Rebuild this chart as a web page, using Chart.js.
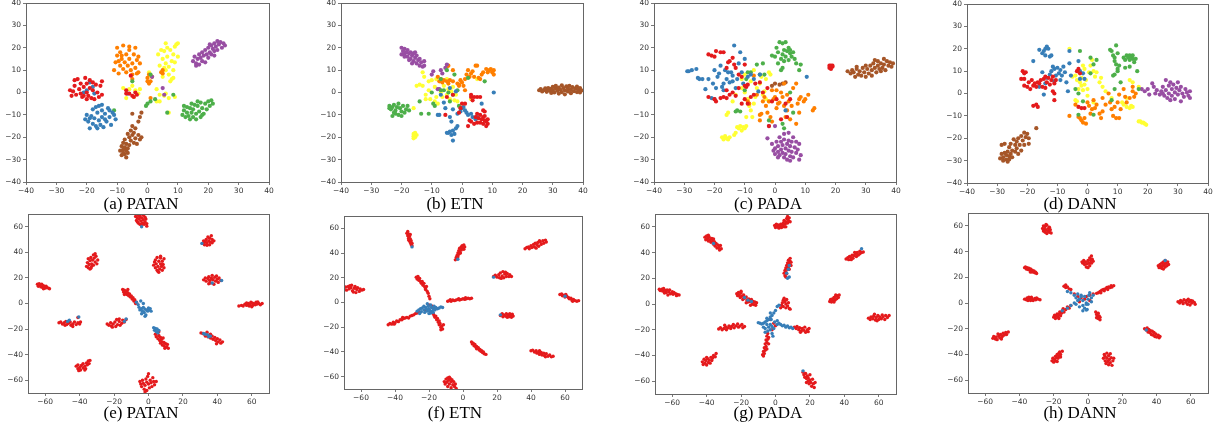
<!DOCTYPE html>
<html>
<head>
<meta charset="utf-8">
<script src="https://cdn.jsdelivr.net/npm/chart.js@4"></script>
<style>
  body { margin: 0; width: 1214px; height: 427px; background: #fff; position: relative; overflow: hidden; }
  canvas { position: absolute; }
  .cap { position: absolute; width: 300px; text-align: center; font-family: "Liberation Serif", "Times New Roman", serif; font-size: 17px; line-height: 17px; color: #000; white-space: nowrap; }
</style>
</head>
<body>
<script>
// tick values
const topTicks = [-40, -30, -20, -10, 0, 10, 20, 30, 40];
const bottomTicks = [-60, -40, -20, 0, 20, 40, 60];
const captions = ['(a) PATAN', '(b) ETN', '(c) PADA', '(d) DANN', '(e) PATAN', '(f) ETN', '(g) PADA', '(h) DANN'];

// (a) PATAN, 7 classes
const aRed = [[-25,-1.5],[-25.5,1],[-24,3],[-24,5.5],[-23,6],[-22.5,1.5],[-22,4],[-22,-0.5],[-21.5,-2],[-21,2.5],[-20.5,6.5],[-20,4],[-20,0],[-19.5,-1.5],[-19,5.5],[-19,2],[-18.5,-2.5],[-18,1],[-17.5,-3],[-17,3.5],[-16.5,0],[-16,-2],[-15.5,3],[-15,5],[-15,-1],[-23.5,-1],[-21,-1.5],[-18,4.5],[-24.5,0.5],[-20,-3],
  [-7,1],[-6,-0.5],[-5,-1.5],[-4,0],[-4.5,-2],[-5.5,7.5],[-7,-0.5],[-3.5,-1]];
const aBlue = [[-20,-10],[-19.5,-13],[-19,-16],[-18.5,-10.5],[-18,-14],[-18,-7.5],[-17.5,-11.5],[-17,-15],[-16.5,-9],[-16,-6],[-16,-12.5],[-15.5,-14.5],[-15,-8],[-15,-11],[-14.5,-15.5],[-14,-9.5],[-13.5,-13],[-13,-7],[-12.5,-11],[-12,-14.5],[-11.5,-9],[-11,-10],[-10.5,-12],[-20.5,-12],[-17,-6.5],[-14,-12],[-19,-11.5],[-12.5,-8],[-16.5,-16],[-15,-5.5],
  [-20,1],[-19,4.5],[-18,2.5],[-17.5,-0.5],[-21,0],[-6.5,-0.5]];
const aGreen = [[11.5,-10],[12,-8],[12.5,-11],[13,-9],[13,-6.5],[13.5,-10.5],[14,-7],[14.5,-9],[14.5,-5],[15,-11],[15,-7.5],[15.5,-5.5],[16,-9.5],[16,-12],[16.5,-6],[17,-8.5],[17.5,-11],[17.5,-4.5],[18,-7],[18.5,-9.5],[19,-5],[19.5,-7.5],[20,-4],[20.5,-6],[21,-3.5],[21.5,-5],[14,-12],[12,-6],[18,-10],[16.5,-4],
  [-5,5],[0,-5],[-0.5,-6],[1,-4],[2.5,-3],[8.5,-1],[-11,-8],[6.5,-9],[1,8]];
const aPurple = [[15,14],[15.5,16],[16,13],[16.5,15],[17,17],[17,12.5],[17.5,15.5],[18,18],[18,14],[18.5,16.5],[19,19],[19,13.5],[19.5,17],[20,20],[20,15.5],[20.5,18],[21,21],[21,17],[21.5,19.5],[22,22],[22,18.5],[22.5,20.5],[23,23],[23,19],[23.5,21.5],[24,22.5],[24.5,20],[25,22],[25.5,21],[16,12],[20.5,21.5],[22,16.5],
  [1.5,7],[5,2],[5.5,-1]];
const aOrange = [[-11,10],[-10.5,13.5],[-10,20],[-10,16.5],[-9.5,8.5],[-9,12],[-9,18],[-8.5,15],[-8,21],[-8,10.5],[-7.5,13.5],[-7,17],[-7,9],[-6.5,12],[-6,19],[-6,15],[-5.5,10],[-5,13],[-5,8],[-4.5,17],[-4,20],[-4,11],[-3.5,14.5],[-3,9],[-3,16],[-2.5,13],[-8.5,16.5],[-6,20.5],[-9.5,14],[-3.5,8.5],
  [0,5],[0,6.5],[0.5,8],[1,5],[1.5,7],[0.5,4],[1,-2.5],[-5,6],[4.5,9],[5,10],[5,8.5]];
const aYellow = [[3.5,17],[4,12],[4.5,19],[5,15],[5,7],[5.5,18.5],[6,13],[6,10],[6.5,20],[6.5,16],[7,11.5],[7,8],[7.5,19],[8,14],[8,6],[8.5,17],[8.5,10],[9,20.5],[9,13.5],[9.5,21.5],[10,22],[10,16],[7.5,5],[6,22],[5.5,11],[8.5,6.5],
  [-8,2],[-7,-2.5],[-6,1.5],[-5,3],[-4,1],[-3,-0.5],[-2.5,1.5],[-4.5,-2],[0.5,9],[1,7.5],[3,1.5],[4,-1],[5.5,-1.5],[6,-0.5],[7,-2.5],[9,-2],[7,-9],[4,-4],[3,-4]];
const aBrown = [[-9,-26],[-8.5,-24],[-8.5,-28],[-8,-25.5],[-8,-22.5],[-7.5,-27.5],[-7.5,-24.5],[-7,-26],[-7,-29],[-7,-23],[-6.5,-25],[-6.5,-27],[-6,-23.5],[-6,-20],[-5.5,-17],[-5.5,-21.5],[-5,-19],[-5,-15],[-4.5,-22.5],[-4.5,-18],[-4,-20.5],[-4,-16],[-3.5,-23],[-3,-19],[-3,-13],[-2.5,-21],[-2,-20],[-2.5,-11],[-2,-9],[-5,-9.5],[-6.5,-18.5],[-8,-27],[-7.5,-21]];

// (b) ETN
const bRed = [[8,-13],[8.5,-14],[7.5,-12.5],[7,-14],[8,-15],[7,-11],[6.5,-12],[6,-10],[5.5,-11.5],[5,-9.5],[4.5,-11],[7.5,-10.5],[8.5,-12],[6,-13.5],[5,-13.5],[4,-14],[3,-13],[2,-15],[7,-8],[7.5,-8.5],[6,-2],[5,-2],[4,-2],[3,-2],[3.5,-3.5],[3,-1],[1,-5],[0,-5],[-1,-9],[-5.5,-10],[-5,-2],[-3,-1],[-0.5,-7],[2.5,-12.5]];
const bBlue = [[-4.5,-18],[-4,-17.5],[-3.5,-19],[-3,-17],[-3,-21.5],[-2.5,-18.5],[-2,-16],[-1.5,-15],[-5,-18],[-3.5,-13],[-4,-11],[-3,-7.5],[-1.5,-9.5],[-0.5,-8.5],[0,-7],[0.5,-6.5],[1,-8],[1.5,-9],[2,-10],[3,-9.5],[3.5,-11],[4.5,-12],[5,-11],[10.5,0],[6.5,-5],[-7.5,-10],[-8,-10],[-6,-4.5],[-4,2],[-2,0.5],[-7,-1],[-5.5,-7]];
const bGreen = [[-24,-6],[-23.5,-7.5],[-23,-6.5],[-23,-10.5],[-22.5,-5.5],[-22,-8],[-22,-9.5],[-21.5,-6.5],[-21,-5],[-21,-10],[-20.5,-7],[-20,-8.5],[-19.5,-6],[-19,-9],[-18.5,-7.5],[-18,-6],[-17.5,-8],[-20,-10.5],[-22.5,-9],[-24,-7],
  [-14,-4],[-13.5,-9.5],[-11,-9.5],[-9,-6],[-9.5,-5],[-10,0],[-7,1],[-6,1],[-5,10],[-2.5,8],[-4,-4],[-1,-6],[7.5,5],[-3,-1],[-4.5,0],[-7,6],[2,6.5],[-1.5,1]];
const bPurple = [[-20,20],[-19.5,18.5],[-19,19.5],[-19,17],[-18.5,18],[-18,16],[-18,19],[-17.5,17.5],[-17,15],[-17,18],[-16.5,16.5],[-16,14],[-16,17.5],[-15.5,15.5],[-15,13],[-15,16.5],[-14.5,14.5],[-14,12],[-14,15],[-13.5,13.5],[-13,11.5],[-12.5,14],[-12.5,12],[-17.5,14.5],[-20,17],[-19,16],[-15.5,18],[-16.5,13],[-10,8],[-9.5,9.5],[-7,10],[-6.5,8.5],[-5.5,11],[-8,1.5],[-7.5,1.5],[-5,12.5]];
const bOrange = [[-8,7],[-7.5,5],[-7,6],[-6.5,4.5],[-6,5.5],[-5,5],[-4.5,4],[-4,5.5],[-3,5],[-5,11.5],[-4.5,12],[-3,10],[-1.5,4],[-1,3],[-0.5,5.5],[0,4.5],[0.5,3],[1,6],[1.5,8],[2,10],[2.5,7],[3,8.5],[3.5,9.5],[4,7],[4.5,12],[5,12],[5.5,6.5],[6,6],[6.5,8],[7,9],[8,10.5],[8.5,9],[9,10],[9.5,10.5],[10,9],[10.5,8],[10.5,10],[-1,3.5],[1,1]];
const bYellow = [[-16,-18.5],[-15.5,-19],[-15.5,-20],[-16,-19.5],[-15,-19],[-16,-20.5],[-15.5,-18],
  [-15,3],[-14,3.5],[-13,3],[-12.5,7],[-12,-1],[-11,1],[-10,5.5],[-10.5,-3],[-9,2.5],[-8.5,-2],[-8,-5],[-7,0],[-6.5,-2],[-6,3],[-5,6],[-5,-1],[-4.5,1.5],[-4,-3],[-3.5,0.5],[-3,2.5],[-2.5,-3.5],[-2,-1],[-1.5,-4],[-11,5],[-13,9],[-8.5,6],[-16,-7],[-12,-3],[-9,-4],[3,-3],[5,6]];
const bBrown = [[25.5,1],[26,1.5],[26.5,0.5],[27,1],[27.5,1.8],[28,0.3],[28,1.2],[28.5,2],[29,0.8],[29.5,1.6],[29.5,-0.2],[30,2.5],[30,1],[30.5,0],[31,1.8],[31,3],[31.5,0.8],[32,2.2],[32,-0.5],[32.5,1.2],[33,3.2],[33,0.2],[33.5,2],[34,1],[34,-0.8],[34.5,2.8],[35,0.5],[35,1.8],[35.5,3],[36,1.2],[36,-0.3],[36.5,2.4],[37,0.6],[37.5,1.8],[38,0.2],[38,2.6],[38.5,1.2],[39,2],[39,0],[39.5,1]];

// (c) PADA
const cRed = [[18,11],[18.5,12],[19,11.5],[18.5,10.5],[19,12],[18,12],
  [-22,17],[-21,16.5],[-20,16],[-19.5,18.5],[-18,18],[-17,18],[-16,11],[-15.5,13.5],[-15,14],[-14,15.5],[-13.5,12.5],[-13,11],[-16,1],[-15,-1],[-14,0],[-12,2],[-13,-1.5],[-10,3],[-9.5,2.5],[-9,3.5],[-10,12.5],[-11,7],[-12,8],[-20,-3],[-19.5,-4],[-18,-2.5],[-17,-2],[-16,-2.5],[-11,-5],[-10,-3],[-9,-5],[-8,-2],[-7,-1],[-6.5,4],[-5,4.5],[-4,0],[-2.5,2],[-1,-4],[0.5,-3],[3.5,-5],[5,-3],[4,-11],[2,-12],[-2,-15],[-22,-2]];
const cBlue = [[-29,9.5],[-28.5,9.5],[-27.5,10],[-26,10.5],[-25.5,6.5],[-25,6],[-24,6],[-23,1.5],[-22,6],[-20.5,4],[-20,10],[-19.5,2],[-19,7],[-18.5,8.5],[-18,12],[-17.5,2.5],[-17,4],[-16.5,10],[-16,6],[-15.5,9],[-15,4.5],[-14.5,9],[-14,7.5],[-13.5,21],[-13,2],[-12.5,6],[-12,13],[-11.5,18],[-11,9],[-10.5,4],[-10,15],[-9,7],[-8,8],[-7,6],[-5.5,0.5],[-17,1],[-14,5],[-21,-2.5],[-20,-3],[10.5,7],[3.5,-8],[-5,8]];
const cGreen = [[0,16],[0.5,20],[1,18],[1.5,22.5],[2,15],[2.5,17],[2.5,22],[3,19],[3.5,22.5],[3.5,16],[4,18.5],[4.5,14.5],[4.5,20],[5,17.5],[5,19],[5.5,16],[6,18],[6.5,15],[7,13],[8,10],[8.5,12.5],[2,10],[2.5,11],[1,13],[-1,16.5],[3,14],
  [-6,12.5],[-4,13],[-5,8],[-8,9],[-9,9],[-3.5,8],[-10,1],[-12.5,-8],[-13,-8.5],[-11.5,-8.5],[5,0],[2.5,-14],[-2,-12.5],[6,-9],[3,-16],[-9.5,6]];
const cPurple = [[-2.5,-20.5],[-2,-15],[0,-15],[-0.5,-26],[0,-25],[0,-27.5],[0.5,-22],[1,-26.5],[1,-24],[1.5,-28],[1.5,-20],[2,-22],[2,-25.5],[2.5,-27],[2.5,-23.5],[3,-29],[3,-21],[3.5,-25],[3.5,-27.5],[4,-23],[4,-30],[4.5,-26],[4.5,-21.5],[5,-28.5],[5,-24],[5.5,-22],[5.5,-26.5],[6,-20],[6,-29],[6.5,-24.5],[7,-22],[7,-27],[7.5,-25.5],[8,-23],[8,-30],[8.5,-28],[5,-30.5],[1,-29],[3,-18.5],[-1,-23],[4.5,-18]];
const cOrange = [[-9,-4],[-8.5,-5],[-7,7.5],[-6,-1],[-5,-10],[-5,-12.5],[-4.5,-9.5],[-4,-4],[-3.5,-2],[-3,-6],[-2.5,-9],[-2,-4],[-1.5,-11],[-1,-13],[-0.5,-3],[0,-2],[0.5,-7],[1,-5],[1.5,-4.5],[2,0],[2.5,-2],[3,-6],[3.5,-11],[4,-8],[4.5,-4],[5,-12],[5.5,-6],[6,2],[7,4],[7.5,-5],[8,-3],[8.5,-2],[9.5,-4],[11,-1],[12.5,-8],[13,-7],[8,-9],[7,-14],[3,4],[-1,1],[0.5,1],[4,-1],[10,-3]];
const cYellow = [[-17.5,-20],[-17,-21],[-16.5,-19.5],[-16,-20.5],[-15.5,-21],[-15,-20],[-13.5,-19],[-13,-18],[-12,-16],[-11.5,-15],[-11,-17],[-10.5,-15.5],[-10,-16],[-9.5,-15],[-12.5,-15.5],[-16,-10],[-15.5,-9],[-14,-4],[-13,-1],[-11,2],[-10,0],[-9,-3],[-8.5,-6],[-8,-8],[-7,-5],[-6.5,-2],[-6,2],[-5,4],[-4.5,7],[-3,6],[-2,9],[-4,-1],[-3,-3],[-2,-4],[-9.5,-11],[-7.5,-11],[-11,6],[-8,5],[-10,8],[-7,10],[-1.5,8],[-3.5,0.5]];
const cBrown = [[24,9.5],[25,8.5],[25.5,10],[26,9],[26.5,7],[27,10.5],[27.5,8],[28,9.5],[28.5,7.5],[29,11],[29.5,9],[30,7],[30.5,10.5],[31,8.5],[31.5,12],[32,10],[32,7.5],[32.5,13],[33,11],[33.5,9],[34,14],[34,12],[34.5,10.5],[35,13],[35.5,11],[36,15],[36,12.5],[36.5,10],[37,14],[37.5,12],[38,13.5],[38.5,11.5],[39,13],[33,14.5],[30,12],[27,11.5],[35,9.5],
  [-1,3],[0,4],[1.5,3.5],[2.5,4],[3.5,4.5]];

// (d) DANN
const dRed = [[-21.5,10],[-21,9],[-20.5,9.5],[-21,6.5],[-22,6.5],[-21,3.5],[-20,3],[-19.5,5],[-19,2],[-18.5,6],[-18,3.5],[-17.5,4.5],[-17,3],[-16.5,5],[-16,4.5],[-15.5,6],[-15,3],[-14.5,6.5],[-14,7.5],[-13.5,5],[-13,7],[-12.5,4],[-12,6],[-11.5,7.5],[-11,4.5],[-10.5,6],[-11,0],[-11,-3],[-11.5,1],[-14,2.5],[-17,-5],[-18,-5.5],[-16.5,-6],[-3,11],[-2.5,9],[-3.5,10],[-2,-6.5],[-1,-6.5],[-3,-6]];
const dBlue = [[-18,14.5],[-16,19.5],[-15,18],[-14.5,19],[-14,17],[-14,20],[-13.5,21],[-13,20],[-12.5,16.5],[-12,17],[-11.5,12],[-15,9.5],[-14,4.5],[-13.5,7],[-12,10],[-11,11],[-10.5,8],[-10,11.5],[-9.5,9],[-9,10.5],[-9,6],[-8.5,8],[-8,12],[-7.5,9.5],[-7,5],[-6.5,1],[-6,13.5],[-6,19],[-5.5,8],[-3,14.5],[-2.5,10],[-2.5,6.5],[-1,6.5],[-1.5,9],[-12.5,8.5],[-14.5,-0.5],[-11,5.5],[-16,3]];
const dGreen = [[12,16],[12.5,15],[13,17],[13.5,16],[14,17],[14,15],[14.5,16.5],[15,15.5],[15,17],[15.5,14],[16,15.5],[16.5,10],[8,19],[8.5,17],[9,16],[9,14.5],[9.5,13],[9.5,21.5],[10,18],[10,11],[10.5,12.5],[10,10],[9,8.5],[8.5,8],[11,5],[7.5,19.5],[12.5,11.5],[14,12],
  [-2.5,19],[1,16],[3,15],[2,13],[-3,0],[-1.5,-3.5],[2,-9.5],[-3,-9.5],[8,-3],[9,2],[17,2],[-4,2],[1,9]];
const dPurple = [[18,2],[19,1],[20,2],[20.5,-0.5],[21.5,4.5],[22,3],[22.5,0],[23,1.5],[24,-0.5],[24.5,1],[25,3],[25.5,-1],[26,1.5],[26,6],[26.5,-2],[27,3.5],[27,0],[27.5,-3],[28,2],[28,-1],[28.5,4],[29,0.5],[29,-2.5],[29.5,2.5],[30,-0.5],[30,5],[30.5,1.5],[31,-3.5],[31,3],[31.5,0],[32,-1.5],[32.5,2],[33,0.5],[33.5,-1],[34,-2],[34,1],[27.5,5],[25,0]];
const dOrange = [[-6,-10],[-4,-5],[-3,-10.5],[-2.5,-11],[-2,-12],[-1.5,-13],[-1,-11],[-0.5,-13.5],[0,-4],[0.5,-5.5],[1,-9],[1.5,-7],[2,-3],[2.5,-6.5],[3,-5],[4,-9],[4.5,-11],[5,-8],[5,-2],[6,-5],[7,0],[7.5,-4],[8,-7],[8.5,-10],[9.5,-11],[10.5,-11],[10,-4],[10.5,-0.5],[11,-7],[12,2],[12.5,-1.5],[13,-4],[14,-2],[15,1],[15.5,-1.5],[16,0],[15,3],[9,-6]];
const dYellow = [[17.5,-12.5],[18,-13],[18.5,-13],[19,-13.5],[19.5,-14],[17,-12.5],
  [-6,20],[-4,-3],[-3.5,-3.5],[-5,7.5],[-4,8],[-3.5,6],[-2.5,5],[-2,3.5],[-1.5,1.5],[-1,4],[0,-1],[0,2],[0.5,9.5],[1,12.5],[1.5,15],[2,10],[2.5,7.5],[3,9.5],[4.5,7],[4,5],[5,3],[6,1],[8,-2],[-2,7],[-1,11],[-0.5,6],[-3,2],[12,-5],[13,-6],[14,-6.5],[14.5,-5.5],[15,-6],[14,6],[15,5],[17,3],[13,-2],[11.5,-4],[-1.5,12.5],[2,-4]];
const dBrown = [[-29,-29],[-28.5,-27],[-28,-30],[-28,-28.5],[-27.5,-26.5],[-27.5,-22.5],[-27,-29.5],[-27,-27.5],[-26.5,-30.5],[-26.5,-26],[-26,-28],[-26,-29.5],[-25.5,-27],[-25.5,-22.5],[-25,-25.5],[-25,-28.5],[-24.5,-20.5],[-24,-23],[-24,-26],[-23.5,-21.5],[-23.5,-24.5],[-23,-20],[-23,-27],[-22.5,-23],[-22,-19],[-22,-25.5],[-21.5,-21],[-21,-17.5],[-21,-23],[-20.5,-19.5],[-20,-18],[-19.5,-20],[-19.5,-22.5],[-17,-15.5],[-28.5,-23],[-26,-24]];

// (e) PATAN, source vs target
const eRed = [[-7.5,68],[-7,65],[-6.5,67],[-6,63],[-6,69],[-5.5,66],[-5,62],[-5,68],[-4.5,64.5],[-4,61],[-4,67],[-3.5,63],[-3,65.5],[-3,69],[-2.5,62],[-2,64],[-1.5,66],[-1,62.5],[-1,60.5],[-6.5,64],[-2,67.5],[-4.5,70],
  [31.5,47],[32,49],[32.5,46],[33,48],[33.5,50],[34,45.5],[34,47.5],[34.5,52],[35,49],[35.5,51],[35.5,46],[36,48],[36.5,53],[37,50],[37,47.5],[38,49],
  [3,30],[3.5,32.5],[4,28],[4,34],[4.5,31],[5,26],[5,36],[5.5,29],[6,33],[6,24.5],[6.5,27],[7,31],[7,35.5],[7.5,29],[8,26],[8,33],[8.5,30.5],[9,28],[9,35],[5.5,25],[7,37],
  [-36,29],[-35.5,32],[-35,35],[-35,28],[-34.5,30.5],[-34,33.5],[-34,27],[-33.5,36],[-33,31],[-33,29],[-32.5,34],[-32,38],[-32,30],[-31.5,35.5],[-31,32.5],[-31,39],[-30.5,37],[-30,31],[-29.5,34],[-33.5,27.5],
  [32,18.5],[33,20],[33.5,17.5],[34.5,19.5],[35,21],[35.5,18],[36,16],[36.5,20],[37,22],[37.5,18.5],[38,15],[38.5,20.5],[39,17.5],[39.5,21.5],[40,19],[40.5,16.5],[41,20],[42,18],[37,19],[35,15.5],
  [-64.5,15],[-64,13.5],[-63,14.5],[-62.5,13],[-62,15],[-61.5,12.5],[-61,14],[-60.5,13],[-60,12],[-59.5,13.5],[-59,12.5],[-58,12],[-57.5,11.5],[-63.5,15.5],[-61,11.5],
  [52.5,-2],[54,-1.5],[55,-2],[56,-0.5],[57,-1.5],[58,0],[58.5,-2],[59,-1],[60,0.5],[60.5,-1.5],[61,0],[62,-1],[62.5,1],[63,-0.5],[64,0],[65,-1],[66,0],[57,0.5],[60,-2.5],[63.5,1.2],[59.5,1],
  [-15,11],[-14.5,9],[-14,10.5],[-13.5,8],[-13,9.5],[-12.5,7],[-12,8.5],[-11.5,6],[-11,7.5],[-10.5,5],[-10,6],[-9.5,3.5],[-9,4.5],[-8.5,2],[-8,3],[-7.5,0],[-7,1],[-12,11],[-14,7],
  [-52,-15],[-51,-14.5],[-50,-16],[-49,-15],[-48,-14],[-47.5,-16.5],[-46.5,-15.5],[-45.5,-14.5],[-45,-17],[-44,-16],[-43,-14.5],[-42,-16.5],[-41,-15],[-40,-16],[-39.5,-14.5],[-44,-18],[-48.5,-17],[-41,-11],
  [-24,-16],[-23,-17],[-22,-15],[-21.5,-17.5],[-20.5,-16],[-19.5,-14.5],[-19,-18],[-18,-16.5],[-17,-14],[-16.5,-17],[-15.5,-15.5],[-15,-13],[-14,-14.5],[-13,-12.5],[-18.5,-12.5],[-21,-18.5],[-17,-12],
  [4,-24],[4.5,-26],[5,-23],[5.5,-27.5],[6,-25],[6.5,-29],[7,-26.5],[7,-31],[7.5,-28],[8,-32.5],[8,-30],[8.5,-27],[9,-33],[9,-30.5],[9.5,-35],[10,-31.5],[10.5,-34],[11,-32],[6,-22],[11.5,-35],
  [30.5,-23],[31.5,-23.5],[32.5,-24],[33,-25.5],[34,-22.5],[34.5,-26],[35.5,-24.5],[36,-27],[37,-25.5],[37.5,-28],[38.5,-26.5],[39,-29],[40,-27.5],[40.5,-30],[41.5,-28.5],[42,-31],[43,-30],[36,-24],[39.5,-31.5],
  [-42,-49],[-41,-51],[-41,-48],[-40,-50],[-39.5,-52],[-39,-48.5],[-38,-50.5],[-38,-47],[-37,-49],[-36.5,-51],[-36,-46.5],[-35.5,-48],[-35,-45],[-34.5,-47],[-34,-44.5],[-40.5,-52.5],[-37,-52],
  [-5,-61],[-4.5,-63],[-4,-65],[-3.5,-60],[-3,-62.5],[-2.5,-67],[-2,-64],[-1.5,-59],[-1,-61.5],[-1,-68],[0,-63],[0,-55],[0.5,-66],[1,-60],[1.5,-62],[2,-65],[2.5,-58],[3,-61],[3.5,-63.5],[4.5,-61],[-0.5,-57],[-2,-69]];
const eBlue = [[-7,1],[-6,-1],[-5.5,-3],[-5,-5],[-4,-4],[-3.5,-6],[-3,-3],[-2.5,-7],[-2,-4.5],[-1.5,-9],[-1,-5],[-0.5,-6],[0,-3.5],[0.5,-5],[1,-4],[1.5,-6],[-4,-8],[-3,0],[-4.5,2],[-2,-10],
  [3,-19],[3.5,-21],[4,-19.5],[4.5,-22],[5,-20],[5.5,-23],[6,-21],
  [-4,60],[31,47],[42.5,18],[37,16],[-13,-12],[-14,-14],[-46,-13],[-47,-14],[-40.5,-10.5],[32,-23.5],[33,-24],[34.5,-24.5],[35,-26],[36,-25.5]];

// (f) ETN
const fRed = [[-33,56],[-32.5,57.5],[-32.5,54],[-32,55.5],[-32,52],[-31.5,53.5],[-31.5,50],[-31,51.5],[-31,48.5],[-30.5,50],[-30.5,47],[-30,48],[-31,55],[-32,50.5],[-30,46],
  [-4.5,34.5],[-4,36.5],[-3.5,38],[-3,37],[-3,40],[-2.5,39],[-2.5,42],[-2,41],[-1.5,43.5],[-1.5,40],[-1,45],[-1,42.5],[-0.5,46],[0,44],[0.5,46.5],[0.5,43],[1,45],[-2,44],[-3.5,35.5],
  [36.5,43.5],[37.5,44.5],[38.5,45],[39,43.5],[40,46],[40.5,44.5],[41.5,47],[42,45],[42.5,48],[43.5,46.5],[44,48.5],[44.5,45.5],[45.5,49],[46,47],[47,50],[47.5,48],[48.5,50.5],[49,49],[43,44],[45,50],
  [-70,11],[-69,12.5],[-68.5,10],[-67.5,13],[-67,11],[-66,12],[-65.5,14],[-65,9.5],[-64,11.5],[-63.5,13],[-62.5,10.5],[-62,12],[-61,9],[-60.5,11],[-59.5,10],[-58.5,10.5],[-64.5,8.5],[-66.5,13.5],[-63,8],
  [18,21],[19,22],[20,20.5],[21,22.5],[21.5,20],[22,24],[23,21.5],[23.5,25],[24,20],[24.5,23],[25.5,21],[26,23.5],[27,21],[27.5,22.5],[28.5,21],[22.5,19.5],[25,24.5],
  [-27.5,20.5],[-27,19],[-26.5,21],[-26,18],[-25.5,19.5],[-25,17],[-24.5,15.5],[-24,17],[-23.5,14],[-23,15.5],[-22.5,12.5],[-22,11],[-21.5,13],[-21,9],[-20.5,7.5],[-20,5],[-19.5,3],[-22,10.5],
  [-44,-18],[-43,-17],[-42,-17.5],[-41,-16],[-40,-16.5],[-39,-15],[-38,-15.5],[-37,-14],[-36,-14],[-35,-13],[-34,-12.5],[-33,-12],[-32,-12.5],[-31,-11],[-30,-10.5],[-29,-10],[-28,-9],[-27,-8.5],[-26,-8],[-35.5,-12],[-40.5,-17.5],
  [-17.5,-9],[-17,-10.5],[-16.5,-12],[-16,-11],[-15.5,-14],[-15,-13],[-14.5,-16],[-14,-18],[-13.5,-17],[-13,-20],[-12.5,-19],[-12,-21.5],[-13,-22],[-11.5,-18],[-14,-15],
  [-20,-2],[-18,-3],[-16,-4.5],[-22,-6],[-19,-8],
  [-9,1],[-8,1.5],[-7,1],[-6,2],[-5,1.5],[-4,2],[-3,2.5],[-2,2],[-1,2.5],[0,3],[1,2.5],[2,3],[3,3.5],[4,3],[5,3.5],[-7.5,2.2],[-2.5,3],[1.5,3.8],
  [57,6.5],[58,7],[58.5,5.5],[59.5,6],[60,4.5],[61,5],[62,4],[62.5,3],[63.5,3.5],[64,2],[65,2.5],[66,1.5],[67,1],[68,1.5],[60.5,6.5],[64.5,1],
  [22,-10.5],[23,-9],[23.5,-11.5],[24,-10],[25,-11],[25.5,-9],[26,-12],[26.5,-10],[27,-11.5],[27.5,-9],[28,-10.5],[28.5,-12],[29,-9.5],[29.5,-11],
  [5,-32],[5.5,-33.5],[6,-33],[6.5,-35],[7,-34],[7.5,-36],[8,-35.5],[8.5,-37],[9,-36.5],[9.5,-38.5],[10,-38],[10.5,-39.5],[11,-39],[11.5,-40.5],[12,-40],[12.5,-41.5],[13.5,-42],[8,-37.5],
  [40,-39],[41,-38.5],[42,-40],[43,-39],[43.5,-41],[44.5,-40],[45,-42],[46,-40.5],[46.5,-42.5],[47.5,-41],[48,-43],[49,-41.5],[50,-43.5],[51,-42.5],[52,-44],[53,-43.5],[45,-39],[48.5,-44],
  [-11,-64],[-10.5,-66],[-10,-62],[-9.5,-64.5],[-9,-61],[-9,-68],[-8.5,-63],[-8,-66],[-7.5,-61.5],[-7,-64],[-7,-69],[-6.5,-62.5],[-6,-66.5],[-5.5,-64],[-5,-68],[-4.5,-66],[-4,-69.5],[-8,-60.5]];
const fBlue = [[-27,-7],[-26,-6],[-25,-5],[-24.5,-7.5],[-24,-4.5],[-23,-6],[-22.5,-8],[-22,-4],[-21.5,-5.5],[-21,-7],[-20.5,-3],[-20,-5],[-19.5,-6.5],[-19,-2],[-18.5,-4],[-18,-7],[-17.5,-5],[-17,-3],[-16.5,-6],[-16,-4],[-15,-5],[-14,-4.5],[-13,-3.5],[-12,-4],[-20,-9],[-21,-1],[-19,-8.5],[-23,-3],[-17.5,-8],[-25.5,-9],
  [-30,45],[18,20.5],[22,-10],[60,5],[-3,35]];

// (g) PADA
const gRed = [[-0.5,61],[0,59.5],[0.5,62],[1,60],[1.5,61.5],[2,59],[2.5,60.5],[3,62],[3.5,59.5],[4,61],[4.5,63],[5,60],[5,65],[5.5,62],[6,64],[6.5,66.5],[7,63],[7,68],[7.5,65],[8,67],[8.5,64],[6,60],
  [-41,52],[-40.5,50],[-40,53],[-39.5,51],[-39,49],[-38.5,52],[-38,50],[-37.5,48],[-37,51],[-36.5,49],[-36,46.5],[-35.5,48.5],[-35,45],[-34.5,47],[-34,43.5],[-33.5,46],[-33,44],[-32.5,42],[-32,45.5],[-31.5,43],[-39,53.5],[-36,50.5],
  [41,35],[42,36],[42.5,34.5],[43,37],[44,36],[44.5,38],[45,35.5],[45.5,37.5],[46.5,39],[47,37],[47.5,40],[48,38],[49,41],[49,39],[50,40],[51,40.5],[46,40],[44,34.5],
  [5,24],[5.5,26],[5.5,22],[6,28],[6,25],[6.5,30],[6.5,23.5],[7,27],[7,32],[7.5,29],[7.5,34],[8,31],[8,27],[8.5,33],[8.5,35.5],[9,30],[9,32.5],[6,21],
  [-67.5,11.5],[-67,10.5],[-66,11.5],[-65.5,10],[-65,12],[-64,10.5],[-63.5,9],[-63,11],[-62,9.5],[-61.5,11],[-61,8],[-60,9.5],[-59.5,7.5],[-59,9],[-58,8],[-57.5,6.5],[-57,7.5],[-56,7],[-62.5,7],[-64.5,8.5],
  [-22.5,8],[-22,6.5],[-21.5,9],[-21,7],[-20.5,5],[-20,8.5],[-19.5,6],[-19,3.5],[-18.5,7],[-18,4.5],[-17,5.5],[-16.5,3],[-16,1.5],[-15.5,4],[-15,2],[-14,3.5],[-13.5,0],[-13,2],[-12.5,-0.5],[-12,1.5],[-11.5,-1],[-11,1],[-20,10],[-17,1],[-14.5,-1],
  [31.5,2],[32,3.5],[32.5,1.5],[33,4],[33.5,2.5],[34,5],[34.5,3],[35,6],[35.5,4],[36,6.5],[36.5,5],[37,7],[34,1.5],[35,7],
  [54,-11],[55,-12],[55.5,-10],[56.5,-11.5],[57,-9.5],[58,-12.5],[58.5,-10.5],[59.5,-9],[60,-12],[60.5,-10],[61.5,-11.5],[62,-8.5],[62.5,-10],[63.5,-12],[64,-9],[65,-10.5],[66,-9],[59,-13],[57.5,-8],
  [-33,-19.5],[-32,-18.5],[-31,-20],[-30,-19],[-29,-18],[-28.5,-20],[-27.5,-18.5],[-27,-17],[-26,-19],[-25.5,-17.5],[-24.5,-16],[-24,-18.5],[-23,-17],[-22,-15.5],[-21.5,-18],[-20.5,-17],[-19.5,-16],[-19,-18.5],[-18,-17.5],[-29.5,-16.5],
  [3,-3],[3.5,-1],[4,1],[4.5,3],[5,4.5],[5.5,2],[6,0],[6.5,3.5],[7,-1.5],[7.5,1],[8,-3.5],[6,-3],[4.5,-2],[8.5,-4],
  [-4.5,-23],[-5,-25],[-4.5,-27.5],[-5.5,-28],[-5,-30],[-6,-31],[-5.5,-33],[-6.5,-34],[-6,-36],[-7,-37],[-6.5,-38.5],[-7.5,-39.5],[-7,-40.5],[-5,-35],[-4,-26],[-4,-31],
  [-3,-12],[-1,-15],[-2,-20],[0,-17],
  [11,-18],[12,-19],[12.5,-17.5],[13.5,-20],[14,-18.5],[15,-21],[15.5,-19],[16.5,-20.5],[17,-18],[17.5,-22],[18.5,-20],[19,-21.5],[19.5,-19],[14.5,-22],
  [-42.5,-45],[-42,-47],[-41.5,-43],[-41,-46],[-40.5,-44],[-40,-47.5],[-39.5,-42.5],[-39,-45.5],[-38.5,-43.5],[-38,-46],[-37.5,-41.5],[-37,-44],[-36.5,-42],[-36,-40],[-35,-41],[-34.5,-38.5],[-40,-41.5],
  [16,-53],[16.5,-55],[17,-57],[17.5,-54],[18,-58],[18.5,-56],[19,-60],[19,-57.5],[19.5,-62],[20,-59],[20.5,-61],[21,-64],[21.5,-58.5],[22,-62],[22.5,-65],[23,-61],[18,-61],[20,-55]];
const gBlue = [[0,-5],[-1,-7],[-2,-9],[-3,-10],[-2.5,-12],[-4,-12],[-5,-13],[-6,-14],[-7,-15],[-8,-15.5],[-9,-15],[-10,-14.5],[-5,-16],[-4,-18],[-3,-16],[-2,-17.5],[-1,-19],[-3,-20],[-4.5,-21],[-6,-19],[-6,-22],[-2,-23],[-0.5,-14],[1,-13],[1,-16],[2,-15],[3,-16],[4,-17],[5,-16.5],[6,-18],[7,-17],[8,-18.5],[9,-18],[10,-19],[-5,-11],[-3,-7],[1,-2],[2,-1],[-7,-18],[-1.5,-25],
  [7,20],[8,21],[6.5,24],[7.5,27],[8,30],[50,43],[-16,3],[-14,2],[-18,5],[16,-52],[-36,47]];

// (h) DANN
const hRed = [[-26.5,58],[-26,60],[-26,56],[-25.5,57.5],[-25,59.5],[-25,55],[-24.5,57],[-24,60.5],[-24,54],[-23.5,56],[-23,58],[-22.5,55],[-22,57],[-21.5,54.5],[-24.5,61],[-22.5,59],
  [-3,31],[-2.5,33],[-2,30],[-1.5,32],[-1,28],[-0.5,30.5],[0,33],[0,27.5],[0.5,31],[1,35],[1,29],[1.5,33],[2,36.5],[2,31],[2.5,34],[3,32.5],[-3.5,32],
  [41,29],[41.5,27.5],[42,30],[42.5,28],[43,31],[43,27],[43.5,29],[44,32],[44.5,30],[45,28],[45,33],[45.5,31],[46,29],[46.5,32],[47,30],[44,26.5],
  [-37,27.5],[-36.5,28],[-36,26.5],[-35.5,27.5],[-35,26],[-34.5,27],[-34,25.5],[-33.5,26.5],[-33,24.5],[-32.5,25.5],[-32,24],[-31.5,25],[-31,23.5],[-30.5,24],[-30,23],[-33.5,24],
  [-37,3],[-36,2.5],[-35.5,4],[-35,2],[-34,3.5],[-33.5,2],[-33,4.5],[-32.5,3],[-32,2],[-31,3.5],[-30.5,2.5],[-30,4],[-29,3],[-28,2.5],[-34.5,4.5],
  [5,7.5],[6,8],[7,9],[7.5,8],[8,10],[9,10.5],[9.5,9.5],[10,11],[11,12],[11.5,10.5],[12,12.5],[13,12],[13.5,13.5],[14,12.5],[15,13.5],[3,7],[1,6],
  [-14,13],[-13,14],[-12,12.5],[-11,11],[-10,10.5],[-13,12],[-8,7],[-6,5],
  [-20,-11],[-19.5,-9.5],[-19,-12],[-18.5,-10],[-18,-8.5],[-17.5,-11],[-17,-9],[-16.5,-7],[-16,-10],[-15.5,-8],[-15,-6],[-14.5,-4.5],[-14,-7],[-13,-5],[-12,-3],[-11,-4],[-10,-2],[-17,-12],
  [4.5,-7],[5,-9],[5.5,-10.5],[6,-8],[6,-12],[6.5,-10],[7,-13],[5,-11.5],[7,-11],
  [-4,4],[-2,3],[-1,5],[1,2],[-5,1],
  [52.5,1],[53.5,0],[54,2],[55,1],[55.5,-0.5],[56,2.5],[57,0.5],[57.5,2],[58,-1],[58.5,3],[59,1],[60,2],[60.5,0],[61,1.5],[62,0.5],[62.5,-1],[59.5,-1.5],
  [-55.5,-27.5],[-55,-26],[-54,-28],[-53.5,-26.5],[-53,-28.5],[-52,-25.5],[-51.5,-27],[-51,-24.5],[-50,-26],[-49.5,-23.5],[-49,-25],[-48,-23],[-47.5,-24.5],[-46.5,-22.5],[-52.5,-24],[-50.5,-28],
  [33,-20],[34,-21],[34.5,-19.5],[35,-22.5],[35.5,-20.5],[36,-23],[36.5,-21.5],[37,-24.5],[37.5,-22],[38,-25],[38.5,-23],[39,-26],[39.5,-24],[40,-26.5],[41,-25],[41.5,-27],[42,-26],
  [-21,-45],[-20.5,-43],[-20,-46],[-19.5,-44],[-19,-41.5],[-19,-45],[-18.5,-42.5],[-18,-40],[-17.5,-43],[-17,-39],[-17,-41.5],[-16.5,-38],[-16,-40],[-15,-37.5],[-18,-45.5],[-16,-42],
  [9,-43],[9.5,-40],[10,-45],[10,-41.5],[10.5,-47],[11,-39],[11,-43],[11.5,-45.5],[12,-48],[12,-41],[12.5,-44],[13,-46.5],[13.5,-42.5],[14,-48.5],[14.5,-45],[15,-43],[13,-39.5]];
const hBlue = [[-12,9],[-10,8],[-8,6],[-7,4],[-6,7],[-5,3],[-4,6],[-3,2],[-2,5],[-1,0],[0,3],[0.5,6],[1,8],[2,4],[3,6],[-3,-2],[-2,-4],[-1,-1],[0,-1],[-8,0],[-10,-2],[-12,-4],[-5,-3],[-7,-1],[-3,-6],[-0.5,-5],[-1,-5.5],[-4,5],[-6,2],[2,1],
  [45,33],[34,-21],[-15,-6]];

const C = { red: '#e41a1c', blue: '#377eb8', green: '#4daf4a', purple: '#984ea3', orange: '#ff7f00', yellow: '#ffff33', brown: '#a65628' };

const Y_W = 30, X_H = 20, PAD_T = 6, PAD_R = 8;

const panels = [
  { box: [26, 3, 269, 182], lim: 40, ticks: topTicks, r: 2.1, series: [[aRed, C.red], [aBlue, C.blue], [aGreen, C.green], [aPurple, C.purple], [aOrange, C.orange], [aYellow, C.yellow], [aBrown, C.brown]] },
  { box: [341, 3, 583, 182], lim: 40, ticks: topTicks, r: 2.1, series: [[bRed, C.red], [bBlue, C.blue], [bGreen, C.green], [bPurple, C.purple], [bOrange, C.orange], [bYellow, C.yellow], [bBrown, C.brown]] },
  { box: [654, 3, 896, 182], lim: 40, ticks: topTicks, r: 2.1, series: [[cRed, C.red], [cBlue, C.blue], [cGreen, C.green], [cPurple, C.purple], [cOrange, C.orange], [cYellow, C.yellow], [cBrown, C.brown]] },
  { box: [967, 4, 1208, 183], lim: 40, ticks: topTicks, r: 2.1, series: [[dRed, C.red], [dBlue, C.blue], [dGreen, C.green], [dPurple, C.purple], [dOrange, C.orange], [dYellow, C.yellow], [dBrown, C.brown]] },
  { box: [28, 214, 269, 393], lim: 70, ticks: bottomTicks, r: 1.7, series: [[eBlue, C.blue], [eRed, C.red]] },
  { box: [344, 216, 582, 389], lim: 70, ticks: bottomTicks, r: 1.7, series: [[fBlue, C.blue], [fRed, C.red]] },
  { box: [655, 214, 896, 394], lim: 70, ticks: bottomTicks, r: 1.7, series: [[gBlue, C.blue], [gRed, C.red]] },
  { box: [968, 213, 1208, 393], lim: 70, ticks: bottomTicks, r: 1.7, series: [[hBlue, C.blue], [hRed, C.red]] }
];
const capCenters = [141, 455, 768, 1080];
const capTops = [195, 404];

const frame = {
  id: 'frame',
  afterDraw(chart) {
    const { ctx, chartArea: a } = chart;
    ctx.save();
    ctx.strokeStyle = '#666';
    ctx.lineWidth = 1;
    ctx.strokeRect(Math.round(a.left) + 0.5, Math.round(a.top) + 0.5, Math.round(a.right - a.left), Math.round(a.bottom - a.top));
    ctx.restore();
  }
};

function axis(p, isX) {
  return {
    type: 'linear',
    min: -p.lim,
    max: p.lim,
    afterBuildTicks: s => { s.ticks = p.ticks.map(v => ({ value: v })); },
    afterFit: s => {
      if (isX) { s.height = X_H; s.paddingLeft = 0; s.paddingRight = 0; }
      else { s.width = Y_W; s.paddingTop = 0; s.paddingBottom = 0; }
    },
    border: { display: false },
    grid: { drawOnChartArea: false, drawTicks: true, tickLength: 3, color: '#555', lineWidth: 0.8 },
    ticks: {
      autoSkip: false, maxRotation: 0, padding: 2, color: '#333',
      font: { family: 'DejaVu Sans', size: 7.5 },
      callback: v => String(v).replace('-', '\u2212')
    }
  };
}

panels.forEach((p, i) => {
  const [l, t, r, b] = p.box;
  const cv = document.createElement('canvas');
  cv.width = Y_W + (r - l) + PAD_R;
  cv.height = PAD_T + (b - t) + X_H;
  cv.style.left = (l - Y_W) + 'px';
  cv.style.top = (t - PAD_T) + 'px';
  document.body.appendChild(cv);

  new Chart(cv, {
    type: 'scatter',
    data: {
      datasets: p.series.map(([pts, color]) => ({
        data: pts.map(([x, y]) => ({ x, y })),
        backgroundColor: color,
        borderWidth: 0,
        pointRadius: p.r,
        clip: 0
      }))
    },
    options: {
      responsive: false,
      animation: false,
      events: [],
      layout: { padding: { top: PAD_T, right: PAD_R, left: 0, bottom: 0 } },
      plugins: { legend: { display: false }, tooltip: { enabled: false } },
      scales: { x: axis(p, true), y: axis(p, false) }
    },
    plugins: [frame]
  });

  const cap = document.createElement('div');
  cap.className = 'cap';
  cap.textContent = captions[i];
  cap.style.left = (capCenters[i % 4] - 150) + 'px';
  cap.style.top = capTops[Math.floor(i / 4)] + 'px';
  document.body.appendChild(cap);
});
</script>
</body>
</html>
